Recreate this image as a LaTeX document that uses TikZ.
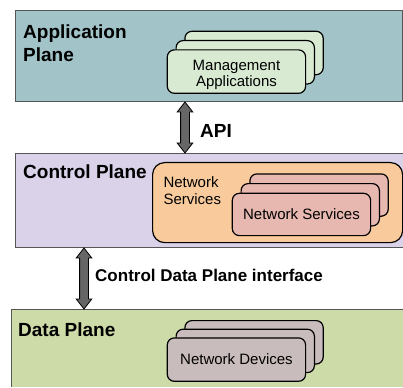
\documentclass[tikz,border=0pt]{standalone}
\usepackage{fontspec}
\setmainfont{Liberation Sans}
\usetikzlibrary{calc}
\definecolor{appc}{HTML}{A2C4C9}
\definecolor{mgmtc}{HTML}{D9EAD3}
\definecolor{ctrlc}{HTML}{D9D2E9}
\definecolor{orangec}{HTML}{F9CB9C}
\definecolor{pinkc}{HTML}{E6B8AF}
\definecolor{datac}{HTML}{CDDBA8}
\definecolor{devc}{HTML}{C9BCBC}
\definecolor{planeborder}{HTML}{555555}
\definecolor{arrowc}{HTML}{666666}
\newcommand\dblarr[2]{%
  \filldraw[arrowst] (#1) -- ($(#1)+(7.8,10)$) -- ($(#1)+(4.4,10)$) -- ($(#2)+(4.4,-10)$) -- ($(#2)+(7.8,-10)$) -- (#2) -- ($(#2)+(-7.8,-10)$) -- ($(#2)+(-4.4,-10)$) -- ($(#1)+(-4.4,10)$) -- ($(#1)+(-7.8,10)$) -- cycle;}
\begin{document}
\begin{tikzpicture}[x=1pt,y=-1pt,
  plane/.style={draw=planeborder, line width=1pt, inner sep=0pt, anchor=north west},
  title/.style={font=\fontsize{19}{23}\selectfont\bfseries, inner sep=0pt, align=left},
  stackbox/.style={draw=black, line width=1.2pt, rounded corners=7pt, minimum width=138.3pt, inner sep=0pt, anchor=north west, align=center, font=\fontsize{15}{16.7}\selectfont},
  boxtext/.style={inner sep=0pt, align=center, font=\fontsize{15}{16.7}\selectfont},
  arrowst/.style={fill=arrowc, draw=black, line width=0.8pt},
  lbl/.style={font=\fontsize{17}{20}\selectfont\bfseries, inner sep=0pt, anchor=base west}]
\useasboundingbox (0,0) rectangle (403,387);
% Application plane
\node[plane, fill=appc, minimum width=387pt, minimum height=91pt] (app) at (15,10) {};
\node[title, anchor=north west] (apptitle) at (23,24.5) {Application\\Plane};
\node[stackbox, fill=mgmtc, minimum height=43.4pt] (mg3) at (184.3,30.7) {};
\node[stackbox, fill=mgmtc, minimum height=43.4pt] (mg2) at (175.5,40) {};
\node[stackbox, fill=mgmtc, minimum height=43.4pt] (mg1) at (166.7,49.3) {};
\node[boxtext] (mgtext) at ($(mg1.center)+(0,3.3)$) {Management\\Applications};
% Control plane
\node[plane, fill=ctrlc, minimum width=387.5pt, minimum height=94pt] (ctrl) at (15,153) {};
\node[title, anchor=base west] (ctrltitle) at (23,178.3) {Control Plane};
\node[draw=black, line width=1.2pt, fill=orangec, rounded corners=12pt, minimum width=250pt, minimum height=80pt, inner sep=0pt, anchor=north west] (ns) at (152,162) {};
\node[font=\fontsize{15}{17}\selectfont, inner sep=0pt, align=left, anchor=north west] (nstitle) at (163.3,176.5) {Network\\Services};
\node[stackbox, fill=pinkc, minimum height=42.3pt] (ns3) at (249.3,173.3) {};
\node[stackbox, fill=pinkc, minimum height=42.3pt] (ns2) at (240.5,183) {};
\node[stackbox, fill=pinkc, minimum height=42.3pt] (ns1) at (231.7,192.7) {Network Services};
% Data plane
\fill[datac] (11,309) rectangle (403,387);
\draw[planeborder, line width=1pt] (403,309) -- (11,309) -- (11,387);
\coordinate (data) at (11,309);
\node[title, anchor=base west] (datatitle) at (18,336) {Data Plane};
\node[stackbox, fill=devc, minimum height=43.4pt] (dv3) at (184.3,320) {};
\node[stackbox, fill=devc, minimum height=43.4pt] (dv2) at (175.5,328.6) {};
\node[stackbox, fill=devc, minimum height=43.4pt] (dv1) at (166.7,337.3) {Network Devices};
% Arrows
\coordinate (ax) at (185,0);
\coordinate (bx) at (84,0);
\coordinate (a1) at (app.south -| ax);
\coordinate (a2) at (ctrl.north -| ax);
\coordinate (b1) at (ctrl.south -| bx);
\coordinate (b2) at (data -| bx);
\dblarr{a1}{a2}
\dblarr{b1}{b2}
\node[lbl, font=\fontsize{19}{22}\selectfont\bfseries] (api) at (200,137.3) {API};
\node[lbl] (cdpi) at (95,281.7) {Control Data Plane interface};
\end{tikzpicture}
\end{document}
